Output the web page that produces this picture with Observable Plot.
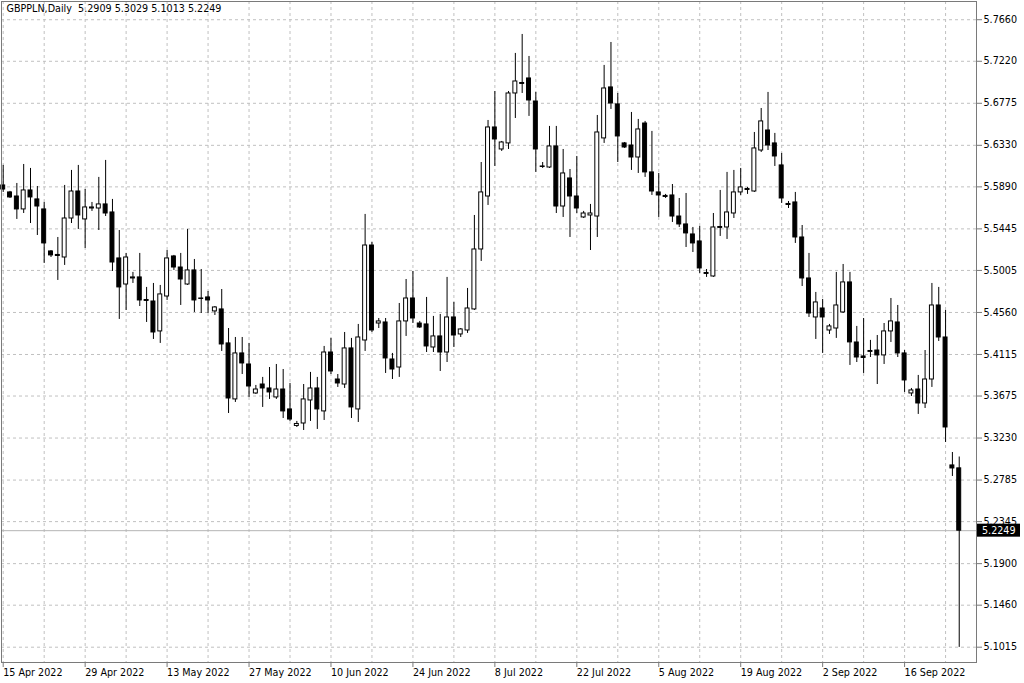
<!DOCTYPE html>
<html>
<head>
<meta charset="utf-8">
<script src="https://cdn.jsdelivr.net/npm/d3@7"></script>
<script src="https://cdn.jsdelivr.net/npm/@observablehq/plot@0.6"></script>
<style>
  html, body { margin: 0; padding: 0; background: #fff; }
  svg text { white-space: pre; }
</style>
</head>
<body>
<div id="chart"></div>
<script>
const title = "GBPPLN,Daily  5.2909 5.3029 5.1013 5.2249";

const open = [
5.5905, 5.5831, 5.5788, 5.5651, 5.5852, 5.5757, 5.5651, 5.5206, 5.5169, 5.5142,
5.5555, 5.5841, 5.5545, 5.5661, 5.5661, 5.5704, 5.5619, 5.5132, 5.4856, 5.4920,
5.4931, 5.4692, 5.4676, 5.4359, 5.4729, 5.5153, 5.5036, 5.4856, 5.5005, 5.4708,
5.4719, 5.4571, 5.4592, 5.4232, 5.3639, 5.4126, 5.4009, 5.3702, 5.3797, 5.3755,
5.3660, 5.3744, 5.3533, 5.3358, 5.3384, 5.3628, 5.3755, 5.3512, 5.4136, 5.3850,
5.3797, 5.4179, 5.3533, 5.4263, 5.5269, 5.4443, 5.4454, 5.4062, 5.3977, 5.4465,
5.4708, 5.4443, 5.4433, 5.4189, 5.4306, 5.4136, 5.4507, 5.4327, 5.4369, 5.4592,
5.5227, 5.5788, 5.6519, 5.6286, 5.6350, 5.6879, 5.6990, 5.7038, 5.6794, 5.6106,
5.6095, 5.6318, 5.5682, 5.5979, 5.5788, 5.5566, 5.5587, 5.5576, 5.6403, 5.6943,
5.6763, 5.6350, 5.6328, 5.6201, 5.6561, 5.6043, 5.5831, 5.5794, 5.5799, 5.5576,
5.5492, 5.5386, 5.5312, 5.4978, 5.4941, 5.5455, 5.5460, 5.5608, 5.5831, 5.5868,
5.5841, 5.6275, 5.6487, 5.6350, 5.6117, 5.5709, 5.5725, 5.5354, 5.4920, 5.4507,
5.4602, 5.4369, 5.4390, 5.4560, 5.4878, 5.4242, 5.4094, 5.4142, 5.4157, 5.4105,
5.4359, 5.4454, 5.4126, 5.3702, 5.3744, 5.3596, 5.3850, 5.4634, 5.4295, 5.2940,
5.2909
];
const high = [
5.6117, 5.5842, 5.5926, 5.6127, 5.6085, 5.5894, 5.5725, 5.5216, 5.5354, 5.5905,
5.6064, 5.6117, 5.5862, 5.5725, 5.5990, 5.6170, 5.5757, 5.5428, 5.5185, 5.4984,
5.5185, 5.4825, 5.4867, 5.4846, 5.5216, 5.5164, 5.5185, 5.5439, 5.5121, 5.5015,
5.4782, 5.4623, 5.4803, 5.4390, 5.4295, 5.4295, 5.4232, 5.3787, 5.3872, 5.3977,
5.4009, 5.3956, 5.3808, 5.3406, 5.3797, 5.3925, 5.3872, 5.4200, 5.4285, 5.3903,
5.4348, 5.4285, 5.4433, 5.5598, 5.5301, 5.4496, 5.4496, 5.4126, 5.4655, 5.4909,
5.4994, 5.4465, 5.4719, 5.4518, 5.4539, 5.4931, 5.4666, 5.4390, 5.4814, 5.5587,
5.6148, 5.6593, 5.6900, 5.6371, 5.6900, 5.7303, 5.7504, 5.7271, 5.6890, 5.6148,
5.6530, 5.6530, 5.6286, 5.6074, 5.6212, 5.5630, 5.5704, 5.6646, 5.7176, 5.7419,
5.6879, 5.6360, 5.6678, 5.6604, 5.6583, 5.6477, 5.6032, 5.5810, 5.5915, 5.5767,
5.5820, 5.5460, 5.5471, 5.5015, 5.5608, 5.5852, 5.6043, 5.6064, 5.6085, 5.5884,
5.6466, 5.6720, 5.6890, 5.6456, 5.6244, 5.5735, 5.5831, 5.5481, 5.5185, 5.4772,
5.4698, 5.4433, 5.4984, 5.5068, 5.4984, 5.4412, 5.4496, 5.4264, 5.4316, 5.4443,
5.4708, 5.4634, 5.4157, 5.3755, 5.3893, 5.4157, 5.4867, 5.4825, 5.4581, 5.3077,
5.3029
];
const low = [
5.5831, 5.5767, 5.5545, 5.5608, 5.5502, 5.5375, 5.5079, 5.5142, 5.4899, 5.5058,
5.5502, 5.5439, 5.5238, 5.5630, 5.5428, 5.5576, 5.4994, 5.4486, 5.4581, 5.4867,
5.4623, 5.4454, 5.4274, 5.4232, 5.4687, 5.5005, 5.4634, 5.4846, 5.4560, 5.4549,
5.4549, 5.4528, 5.4147, 5.3490, 5.3607, 5.3903, 5.3660, 5.3692, 5.3554, 5.3639,
5.3639, 5.3437, 5.3406, 5.3342, 5.3310, 5.3406, 5.3321, 5.3416, 5.3903, 5.3766,
5.3755, 5.3437, 5.3395, 5.4147, 5.4348, 5.4390, 5.3914, 5.3850, 5.3872, 5.4306,
5.4443, 5.4390, 5.4136, 5.4136, 5.3935, 5.4030, 5.4189, 5.4295, 5.4338, 5.4581,
5.5100, 5.5693, 5.6106, 5.6265, 5.6286, 5.6614, 5.6879, 5.6636, 5.6043, 5.6085,
5.6085, 5.5608, 5.5566, 5.5354, 5.5608, 5.5555, 5.5216, 5.5354, 5.6350, 5.6710,
5.6148, 5.6297, 5.6064, 5.6032, 5.5990, 5.5799, 5.5566, 5.5767, 5.5513, 5.5460,
5.5248, 5.5195, 5.4973, 5.4931, 5.4931, 5.5365, 5.5333, 5.5555, 5.5799, 5.5810,
5.5831, 5.6254, 5.6275, 5.6106, 5.5714, 5.5661, 5.5291, 5.4835, 5.4507, 5.4274,
5.4126, 5.4327, 5.4285, 5.4549, 5.3999, 5.4030, 5.3914, 5.4083, 5.3797, 5.4009,
5.4242, 5.4083, 5.3713, 5.3670, 5.3480, 5.3543, 5.3766, 5.4253, 5.3183, 5.2823,
5.1013
];
const close = [
5.5862, 5.5778, 5.5651, 5.5852, 5.5778, 5.5682, 5.5291, 5.5164, 5.5158, 5.5555,
5.5841, 5.5587, 5.5672, 5.5672, 5.5704, 5.5608, 5.5089, 5.4825, 5.5142, 5.4931,
5.4687, 5.4682, 5.4348, 5.4751, 5.5132, 5.5036, 5.4909, 5.5005, 5.4687, 5.4703,
5.4687, 5.4613, 5.4221, 5.3649, 5.4126, 5.4020, 5.3776, 5.3744, 5.3755, 5.3713,
5.3744, 5.3512, 5.3426, 5.3379, 5.3639, 5.3755, 5.3533, 5.4136, 5.3935, 5.3808,
5.4179, 5.3554, 5.4295, 5.5269, 5.4369, 5.4465, 5.4073, 5.3956, 5.4465, 5.4708,
5.4496, 5.4401, 5.4200, 5.4306, 5.4136, 5.4507, 5.4316, 5.4380, 5.4602, 5.5227,
5.5831, 5.6519, 5.6392, 5.6360, 5.6879, 5.7006, 5.6980, 5.6805, 5.6286, 5.6101,
5.6318, 5.5682, 5.6032, 5.5788, 5.5661, 5.5608, 5.5608, 5.6466, 5.6932, 5.6773,
5.6424, 5.6307, 5.6201, 5.6498, 5.6043, 5.5841, 5.5799, 5.5783, 5.5576, 5.5492,
5.5397, 5.5291, 5.5026, 5.4968, 5.5460, 5.5465, 5.5619, 5.5831, 5.5884, 5.5857,
5.6297, 5.6583, 5.6328, 5.6212, 5.5767, 5.5698, 5.5354, 5.4920, 5.4549, 5.4666,
5.4507, 5.4412, 5.4634, 5.4878, 5.4243, 5.4083, 5.4078, 5.4152, 5.4105, 5.4359,
5.4465, 5.4126, 5.3840, 5.3734, 5.3596, 5.3850, 5.4634, 5.4295, 5.3342, 5.2908,
5.2249
];

const xTickIdx = [0, 12, 24, 36, 48, 60, 72, 84, 96, 108, 120, 132];
const xLabels = ["15 Apr 2022", "29 Apr 2022", "13 May 2022", "27 May 2022", "10 Jun 2022", "24 Jun 2022",
                 "8 Jul 2022", "22 Jul 2022", "5 Aug 2022", "19 Aug 2022", "2 Sep 2022", "16 Sep 2022"];
const yTicks = [5.7660, 5.7220, 5.6775, 5.6330, 5.5890, 5.5445, 5.5005, 5.4560,
                5.4115, 5.3675, 5.3230, 5.2785, 5.2345, 5.1900, 5.1460, 5.1015];

const bars = open.map((o, i) => ({i, open: o, high: high[i], low: low[i], close: close[i]}));
const bulls = bars.filter(d => d.close >= d.open);
const bears = bars.filter(d => d.close < d.open);
const last = close[close.length - 1];
const gridXTicks = d3.range(0, 141, 6);
const hw = 0.29;
const FONT = "DejaVu Sans, sans-serif";

const chart = Plot.plot({
  width: 1024,
  height: 683,
  marginLeft: 1,
  marginRight: 48,
  marginTop: 1,
  marginBottom: 21,
  style: {fontFamily: FONT, fontSize: "9.6px", background: "#fff", color: "#000"},
  x: {type: "linear", domain: [-0.249, 142.53], axis: null, label: null},
  y: {type: "linear", domain: [5.0853, 5.7853], axis: null, label: null},
  marks: [
    Plot.gridY(yTicks, {stroke: "#c0c0c0", strokeOpacity: 1, strokeDasharray: "3,3"}),
    Plot.gridX(gridXTicks, {stroke: "#c0c0c0", strokeOpacity: 1, strokeDasharray: "3,3"}),
    Plot.ruleY([last], {stroke: "#b4b4b4", strokeWidth: 1}),
    Plot.ruleX(bars, {x: "i", y1: "low", y2: "high", stroke: "#000", strokeWidth: 1}),
    Plot.rect(bulls, {x1: d => d.i - hw, x2: d => d.i + hw, y1: "open", y2: "close", fill: "#fff", stroke: "#000", strokeWidth: 1}),
    Plot.rect(bears, {x1: d => d.i - hw, x2: d => d.i + hw, y1: "open", y2: "close", fill: "#000", stroke: "#000", strokeWidth: 1}),
    Plot.text([title], {frameAnchor: "top-left", dx: 5, dy: 4, lineAnchor: "top", textAnchor: "start", fontSize: 9.6, fill: "#000"}),
    Plot.frame({stroke: "#7a7a7a"}),
    Plot.axisY(yTicks, {anchor: "right", label: null, tickFormat: d => d.toFixed(4), tickSize: 5, tickPadding: 2, fontSize: 9.6, stroke: "#7a7a7a", fill: "#000"}),
    Plot.axisX(xTickIdx, {anchor: "bottom", label: null, tickFormat: d => xLabels[xTickIdx.indexOf(d)], textAnchor: "start", tickSize: 5, tickPadding: 2, fontSize: 9.6, stroke: "#7a7a7a", fill: "#000"})
  ]
});

document.getElementById("chart").appendChild(chart);

// current price tag on the right axis
const yPos = chart.scale("y").apply(last);
const xRight = chart.scale("x").range[1];
const tag = d3.select(chart).append("g").attr("text-anchor", "start");
tag.append("rect")
  .attr("x", xRight + 1).attr("y", yPos - 6.5)
  .attr("width", 43).attr("height", 13)
  .attr("fill", "#000");
tag.append("text")
  .attr("x", xRight + 6).attr("y", yPos + 3.5)
  .attr("text-anchor", "start")
  .attr("fill", "#fff")
  .attr("font-family", FONT)
  .attr("font-size", 9.6)
  .text(last.toFixed(4));
</script>
</body>
</html>
